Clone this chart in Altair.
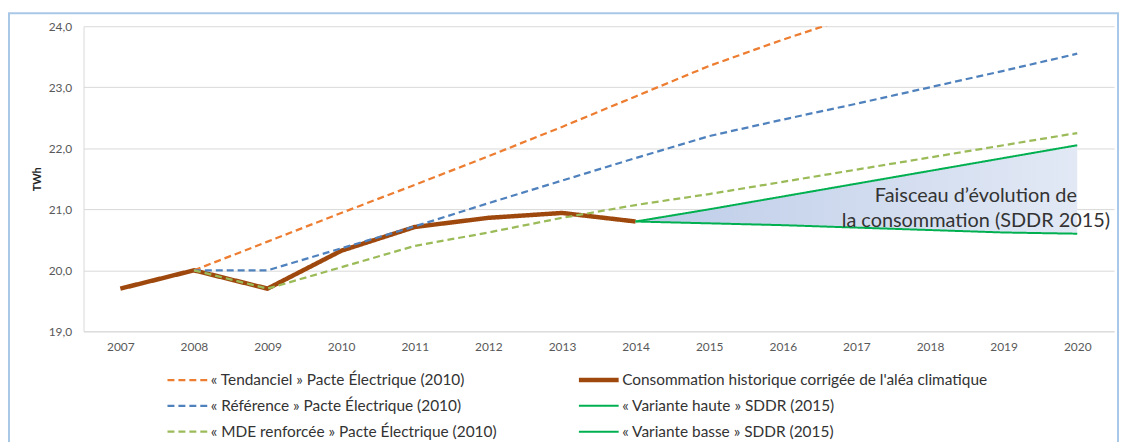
import altair as alt
import pandas as pd

years = [2007, 2008, 2009, 2010, 2011, 2012, 2013, 2014, 2015, 2016, 2017, 2018, 2019, 2020]

tendanciel = [None, 20.0, 20.47, 20.94, 21.40, 21.87, 22.35, 22.85, 23.35, 23.78, 24.18, 24.62, 25.06, 25.50]
reference = [None, 20.0, 20.0, 20.36, 20.72, 21.10, 21.47, 21.84, 22.20, 22.47, 22.73, 23.00, 23.27, 23.55]
mde = [None, 20.0, 19.70, 20.05, 20.40, 20.62, 20.86, 21.07, 21.25, 21.45, 21.65, 21.85, 22.05, 22.25]
historique = [19.70, 20.0, 19.70, 20.32, 20.71, 20.86, 20.94, 20.80, None, None, None, None, None, None]
haute = [None, None, None, None, None, None, None, 20.80, 21.00, 21.21, 21.42, 21.63, 21.84, 22.05]
basse = [None, None, None, None, None, None, None, 20.80, 20.77, 20.74, 20.70, 20.66, 20.62, 20.60]

s_tend = "« Tendanciel » Pacte Électrique (2010)"
s_hist = "Consommation historique corrigée de l'aléa climatique"
s_ref = "« Référence » Pacte Électrique (2010)"
s_haute = "« Variante haute » SDDR (2015)"
s_mde = "« MDE renforcée » Pacte Électrique (2010)"
s_basse = "« Variante basse » SDDR (2015)"

# legend is filled column by column
order = [s_tend, s_ref, s_mde, s_hist, s_haute, s_basse]
colors = ["#ED7D31", "#4F81BD", "#9BBB59", "#9E480E", "#00B050", "#00B050"]
dashes = [[7, 4], [7, 4], [7, 4], [1, 0], [1, 0], [1, 0]]
widths = [2.25, 2.25, 2.25, 4.5, 2, 2]

annotation = ["Faisceau d’évolution de", "la consommation (SDDR 2015)"]

series = {s_tend: tendanciel, s_hist: historique, s_ref: reference,
          s_haute: haute, s_mde: mde, s_basse: basse}
rows = []
for name, vals in series.items():
    for y, v in zip(years, vals):
        if v is not None:
            rows.append({"annee": y, "serie": name, "valeur": v})
df = pd.DataFrame(rows)

band = pd.DataFrame({"annee": years, "bas": basse, "haut": haute}).dropna()

font = "Lato"

legend = alt.Legend(
    title=None, orient="none", legendX=82, legendY=346, columns=2,
    symbolType="stroke", symbolSize=1600, clipHeight=20, rowPadding=6,
    columnPadding=0, gridAlign="all", labelFont=font, labelFontSize=15.5,
    labelColor="#333333", labelOffset=1, labelLimit=600,
)

x_enc = alt.X("annee:Q", scale=alt.Scale(domain=[2006.5, 2020.5], nice=False, zero=False),
              axis=alt.Axis(values=years, format="d", title=None, grid=False, ticks=False,
                            domainColor="#D9D9D9", labelFont=font, labelFontSize=12,
                            labelColor="#595959", labelPadding=10))
y_enc = alt.Y("valeur:Q", scale=alt.Scale(domain=[19, 24], nice=False, zero=False),
              axis=alt.Axis(values=[19, 20, 21, 22, 23, 24], title="TWh",
                            labelExpr="replace(format(datum.value, '.1f'), '.', ',')",
                            gridColor="#D9D9D9", domainColor="#D9D9D9", ticks=False,
                            labelFont=font, labelFontSize=12, labelColor="#595959",
                            labelPadding=12, titleFont=font, titleFontSize=11,
                            titleFontWeight="bold", titleColor="#262626", titlePadding=6))

enc = dict(
    x=x_enc, y=y_enc,
    color=alt.Color("serie:N", scale=alt.Scale(domain=order, range=colors), legend=legend),
    strokeDash=alt.StrokeDash("serie:N", scale=alt.Scale(domain=order, range=dashes), legend=legend),
    strokeWidth=alt.StrokeWidth("serie:N", scale=alt.Scale(type="ordinal", domain=order, range=widths), legend=legend),
)

border = alt.Chart(pd.DataFrame({"k": [0]})).mark_rect(
    fillOpacity=0, stroke="#A9C8E8", strokeWidth=2
).encode(x=alt.value(-75), x2=alt.value(1041), y=alt.value(-13), y2=alt.value(460))

area = alt.Chart(band).mark_area(
    color=alt.Gradient(gradient="linear", x1=0, x2=1, y1=0, y2=0,
                       stops=[alt.GradientStop(color="#BDCCE8", offset=0),
                              alt.GradientStop(color="#E2E9F5", offset=1)])
).encode(
    x=alt.X("annee:Q", scale=alt.Scale(domain=[2006.5, 2020.5], nice=False, zero=False)),
    y=alt.Y("bas:Q", scale=alt.Scale(domain=[19, 24], nice=False, zero=False)),
    y2="haut:Q",
)

hist_layer = alt.Chart(df).transform_filter(alt.datum.serie == s_hist).mark_line(clip=True).encode(**enc)
other_layer = alt.Chart(df).transform_filter(alt.datum.serie != s_hist).mark_line(clip=True).encode(**enc)

text = alt.Chart(pd.DataFrame({"k": [0]})).mark_text(
    text=annotation, align="center", baseline="middle", font=font, fontSize=20,
    color="#333333", lineHeight=25
).encode(x=alt.value(898), y=alt.value(171))

chart = alt.layer(border, area, hist_layer, other_layer, text).properties(
    width=1037, height=307,
    autosize=alt.AutoSizeParams(type="none"),
    padding={"left": 76, "top": 17, "right": 6, "bottom": 110},
    background="white",
).configure_view(stroke=None)

chart.save("out.html", embed_options={"renderer": "svg", "actions": False})
